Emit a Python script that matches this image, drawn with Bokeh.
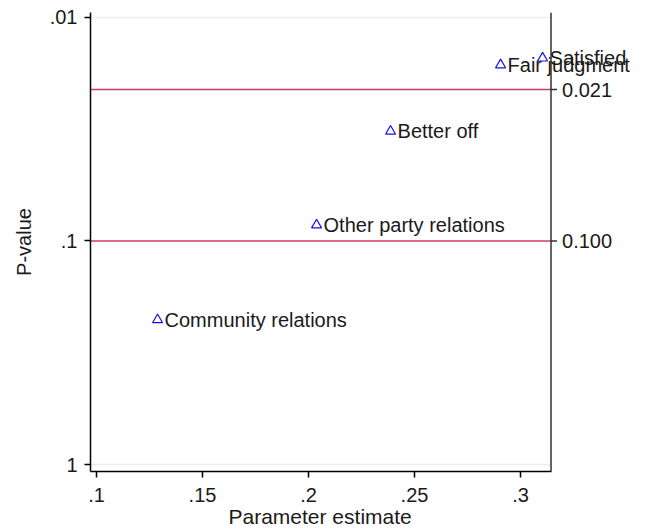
from bokeh.plotting import figure
from bokeh.models import ColumnDataSource, Range1d, FixedTicker, CustomJSTickFormatter, Span, Title
from bokeh.core.properties import value
from bokeh.embed import file_html
from bokeh.resources import INLINE

# Estimates and p-values per outcome
outcomes = ["Satisfied", "Fair judgment", "Better off", "Other party relations", "Community relations"]
estimates = [0.3104, 0.2906, 0.2387, 0.2038, 0.1288]
p_values = [0.0152, 0.0163, 0.0323, 0.0848, 0.2252]

# Reference thresholds shown on the right-hand axis
thresholds = [0.021, 0.100]
threshold_labels = ["0.021", "0.100"]

x_ticks = [0.1, 0.15, 0.2, 0.25, 0.3]
y_ticks = [0.01, 0.1, 1.0]

# Plot-region extent (the frame runs further right so labels are not cut off)
X_LO, X_HI = 0.09717, 0.31439
X_VIEW_HI = 0.36226
Y_TOP, Y_BOTTOM = 0.00950, 1.0746
PX_PER_UNIT = 2120.0

FONT = "Liberation Sans"
TXT = "#1a1a1a"
FS = "20px"

src = ColumnDataSource(dict(x=estimates, y=p_values, name=outcomes))

p = figure(width=652, height=529, output_backend="svg", toolbar_location=None,
           y_axis_type="log",
           x_range=Range1d(X_LO, X_VIEW_HI), y_range=Range1d(Y_BOTTOM, Y_TOP),
           min_border_left=90, min_border_right=0, min_border_top=12,
           min_border_bottom=57)
p.outline_line_color = None
p.background_fill_color = "white"
p.border_fill_color = "white"
p.grid.visible = False

strip_zero = CustomJSTickFormatter(code="""
    if (tick >= 1) return String(Math.round(tick));
    return String(parseFloat(tick.toPrecision(6))).replace(/^0/, "");
""")

for ax in (p.xaxis[0], p.yaxis[0]):
    ax.axis_line_color = "black"
    ax.axis_line_width = 1.5
    ax.major_tick_line_color = "black"
    ax.major_tick_line_width = 1.5
    ax.major_tick_out = 6
    ax.major_tick_in = 0
    ax.minor_tick_line_color = None
    ax.major_label_text_font = FONT
    ax.major_label_text_font_size = FS
    ax.major_label_text_color = TXT
    ax.axis_label_text_font = FONT
    ax.axis_label_text_font_size = FS
    ax.axis_label_text_font_style = "normal"
    ax.axis_label_text_color = TXT
    ax.formatter = strip_zero

p.xaxis.ticker = FixedTicker(ticks=x_ticks)
p.xaxis.bounds = (X_LO, X_HI)
p.xaxis.major_label_standoff = 10

# x-axis title, centred under the axis rule rather than the wider frame
p.add_layout(Title(text="Parameter estimate", align="left", offset=138, standoff=0,
                   vertical_align="top", text_font=FONT, text_font_size="21px",
                   text_font_style="normal", text_color=TXT), "below")

p.yaxis.ticker = FixedTicker(ticks=y_ticks)
p.yaxis.axis_label = "P-value"
p.yaxis.major_label_standoff = 7
p.yaxis.axis_label_standoff = 12
p.yaxis.major_label_orientation = "horizontal"

# Faint grid lines at the outer y ticks
p.segment(x0=X_LO, x1=X_HI, y0=[y_ticks[0], y_ticks[-1]], y1=[y_ticks[0], y_ticks[-1]],
          line_color="#e6eff1", line_width=1.5)

# Threshold lines
p.segment(x0=X_LO, x1=X_HI, y0=thresholds, y1=thresholds,
          line_color="#d2395e", line_width=1.5)

# Right-hand axis: rule, outward ticks and labels at the thresholds
p.add_layout(Span(location=X_HI, dimension="height", line_color="#333333", line_width=1.5))
tick_len = 6 / PX_PER_UNIT
p.segment(x0=X_HI, x1=X_HI + tick_len, y0=thresholds, y1=thresholds,
          line_color="#333333", line_width=1.5)
p.text(x=[X_HI] * len(thresholds), y=thresholds, text=threshold_labels,
       x_offset=11, text_baseline="middle", text_align="left",
       text_font=value(FONT), text_font_size=FS, text_color=TXT)

p.scatter("x", "y", source=src, marker="triangle", size=10,
          fill_color=None, line_color="#1010f0", line_width=1.2)

# Outcome names beside each marker
p.text("x", "y", text="name", source=src, x_offset=7,
       text_baseline="middle", text_align="left",
       text_font=value(FONT), text_font_size=FS, text_color=TXT)

open("out.html", "w").write(file_html(p, INLINE))
